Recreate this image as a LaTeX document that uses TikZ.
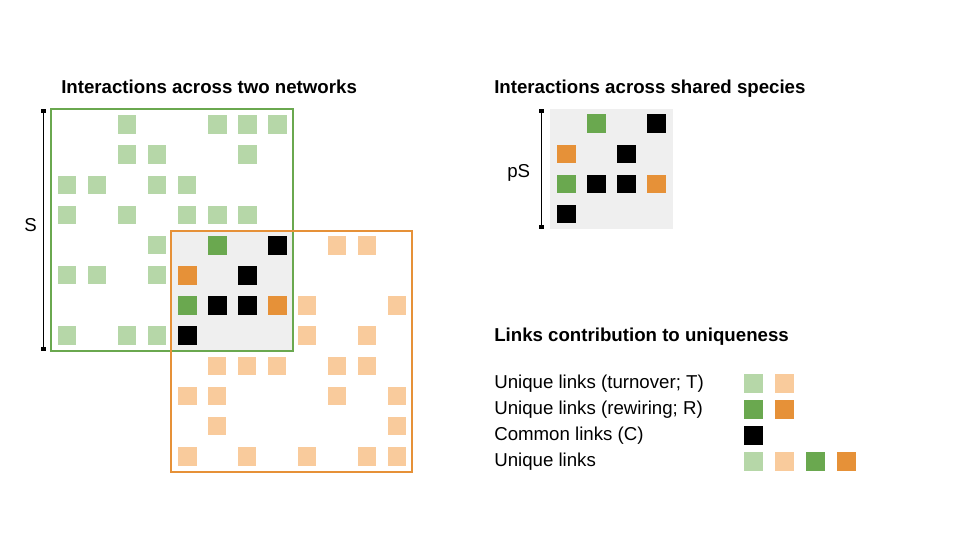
\documentclass[tikz,border=0pt]{standalone}
\usepackage{fontspec}
\setmainfont{Liberation Sans}
\usetikzlibrary{calc}
\definecolor{lgreen}{HTML}{B6D7A8}
\definecolor{lorange}{HTML}{F9CB9C}
\definecolor{dgreen}{HTML}{6AA84F}
\definecolor{dorange}{HTML}{E69138}
\definecolor{shgray}{HTML}{EFEFEF}
\tikzset{
  txt/.style={inner sep=0pt, anchor=base west, font=\fontsize{14}{16}\selectfont},
  ttl/.style={txt, font=\fontsize{14}{16}\selectfont\bfseries},
  netbox/.style={line width=1.5pt},
  bar/.style={line width=1.1pt, black},
}
\newcommand{\cellsz}{18.5}
\begin{document}
\begin{tikzpicture}[x=0.75pt,y=-0.75pt]
\useasboundingbox (0,0) rectangle (960,540);
\fill[white] (0,0) rectangle (960,540);

% titles
\node[ttl] (t1) at (61,93.8) {Interactions across two networks};
\node[ttl] (t2) at (494,93.8) {Interactions across shared species};
\node[ttl] (t3) at (494,341.5) {Links contribution to uniqueness};

% shared grey area
\fill[shgray] (170.7,230.7) rectangle (293.3,351);

% light green cells (network 1)
\foreach \c/\r in {2/0,5/0,6/0,7/0, 2/1,3/1,6/1, 0/2,1/2,3/2,4/2, 0/3,2/3,4/3,5/3,6/3, 3/4, 0/5,1/5,3/5, 0/7,2/7,3/7}
  \fill[lgreen] ({57.5+30.1*\c},{115.3+30.1*\r}) rectangle ++(\cellsz,\cellsz);
% light orange cells (network 2)
\foreach \c/\r in {5/0,6/0, 4/2,7/2, 4/3,6/3, 1/4,2/4,3/4,5/4,6/4, 0/5,1/5,5/5,7/5, 1/6,7/6, 0/7,2/7,4/7,6/7,7/7}
  \fill[lorange] ({178+29.95*\c},{236+30.15*\r}) rectangle ++(\cellsz,\cellsz);
% shared cells in the overlap
\foreach \c/\r/\col in {1/0/dgreen,3/0/black, 0/1/dorange,2/1/black, 0/2/dgreen,1/2/black,2/2/black,3/2/dorange, 0/3/black}
  \fill[\col] ({178+30*\c},{236+30.15*\r}) rectangle ++(\cellsz,\cellsz);

% network boxes
\draw[netbox, dgreen] (51.3,109.3) rectangle (293.3,351);
\draw[netbox, dorange] (170.7,230.7) rectangle (412.3,471.7);

% scale bar S
\coordinate (s1) at (43.3,110.7);
\coordinate (s2) at (43.3,349);
\draw[bar] (s1) -- (s2);
\fill ($(s1)+(-2.4,-1.8)$) rectangle ($(s1)+(2.4,1.8)$);
\fill ($(s2)+(-2.4,-1.8)$) rectangle ($(s2)+(2.4,1.8)$);
\node[txt] (S) at (24,231.5) {S};

% shared species matrix
\fill[shgray] (550,109.3) rectangle (672.7,229.3);
\foreach \c/\r/\col in {1/0/dgreen,3/0/black, 0/1/dorange,2/1/black, 0/2/dgreen,1/2/black,2/2/black,3/2/dorange, 0/3/black}
  \fill[\col] ({557.3+30*\c},{114.3+30.2*\r}) rectangle ++(\cellsz,\cellsz);
\coordinate (p1) at (541.7,111);
\coordinate (p2) at (541.7,226.7);
\draw[bar] (p1) -- (p2);
\fill ($(p1)+(-2.4,-1.8)$) rectangle ($(p1)+(2.4,1.8)$);
\fill ($(p2)+(-2.4,-1.8)$) rectangle ($(p2)+(2.4,1.8)$);
\node[txt] (pS) at (507,177) {pS};

% legend
\node[txt] (l1) at (494,388.5) {Unique links (turnover; T)};
\node[txt] (l2) at (494,414.5) {Unique links (rewiring; R)};
\node[txt] (l3) at (494,440.5) {Common links (C)};
\node[txt] (l4) at (494,466.5) {Unique links};
\foreach \c/\r/\col in {0/0/lgreen,1/0/lorange, 0/1/dgreen,1/1/dorange, 0/2/black, 0/3/lgreen,1/3/lorange,2/3/dgreen,3/3/dorange}
  \fill[\col] ({744+31*\c},{374+26*\r}) rectangle ++(\cellsz,\cellsz);
\end{tikzpicture}
\end{document}
